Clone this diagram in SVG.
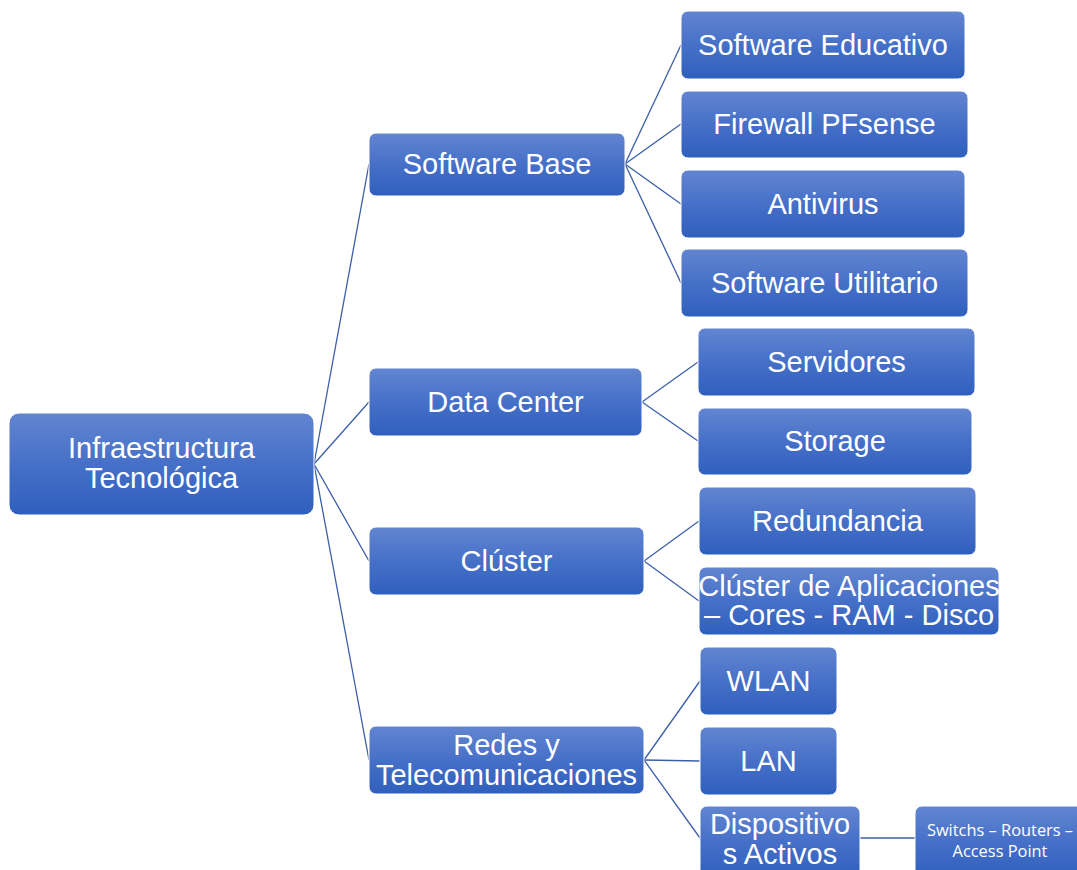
<svg xmlns="http://www.w3.org/2000/svg" width="1077" height="870" viewBox="0 0 1077 870">
  <defs>
    <linearGradient id="boxFill" x1="0" y1="0" x2="0" y2="1">
      <stop offset="0" stop-color="#6285D0"/>
      <stop offset="0.5" stop-color="#4670C8"/>
      <stop offset="1" stop-color="#2F5FBD"/>
    </linearGradient>
    <style>
      .box { fill: url(#boxFill); stroke: #ffffff; stroke-width: 1; }
      .lbl { font-family: "Liberation Sans", Arial, sans-serif; font-size: 29px; fill: #ffffff; text-anchor: middle; dominant-baseline: central; }
      .small { font-family: "Open Sans", "Liberation Sans", sans-serif; font-size: 16.4px; fill: #ffffff; text-anchor: middle; dominant-baseline: central; }
      .link { stroke: #3B5EA9; stroke-width: 1.3; fill: none; }
    </style>
  </defs>
  <rect width="1077" height="870" fill="#ffffff"/>

  <!-- connectors -->
  <g id="connectors">
    <line class="link" x1="314" y1="464" x2="369" y2="164"/>
    <line class="link" x1="314" y1="464" x2="369" y2="402"/>
    <line class="link" x1="314" y1="464" x2="369" y2="561"/>
    <line class="link" x1="314" y1="464" x2="369" y2="760"/>
    <line class="link" x1="625" y1="164" x2="681" y2="45"/>
    <line class="link" x1="625" y1="164" x2="681" y2="124"/>
    <line class="link" x1="625" y1="164" x2="681" y2="204"/>
    <line class="link" x1="625" y1="164" x2="681" y2="283"/>
    <line class="link" x1="642" y1="402" x2="698" y2="362"/>
    <line class="link" x1="642" y1="402" x2="698" y2="441"/>
    <line class="link" x1="644" y1="561" x2="699" y2="521"/>
    <line class="link" x1="644" y1="561" x2="699" y2="601"/>
    <line class="link" x1="644" y1="760" x2="700" y2="681"/>
    <line class="link" x1="644" y1="760" x2="700" y2="761"/>
    <line class="link" x1="644" y1="760" x2="700" y2="838"/>
    <line class="link" x1="860" y1="838" x2="915" y2="838"/>
  </g>

  <!-- root -->
  <g id="infraestructura">
    <rect class="box" x="9" y="413" width="305" height="102" rx="10"/>
    <text class="lbl" x="161.5" y="448">Infraestructura</text>
    <text class="lbl" x="161.5" y="478">Tecnológica</text>
  </g>

  <!-- level 1 -->
  <g id="software-base">
    <rect class="box" x="369" y="133" width="256" height="63" rx="7"/>
    <text class="lbl" x="497" y="164">Software Base</text>
  </g>
  <g id="data-center">
    <rect class="box" x="369" y="368" width="273" height="68" rx="7"/>
    <text class="lbl" x="505.5" y="402">Data Center</text>
  </g>
  <g id="cluster">
    <rect class="box" x="369" y="527" width="275" height="68" rx="7"/>
    <text class="lbl" x="506.5" y="561">Clúster</text>
  </g>
  <g id="redes">
    <rect class="box" x="369" y="726" width="275" height="68" rx="7"/>
    <text class="lbl" x="506.5" y="745">Redes y</text>
    <text class="lbl" x="506.5" y="775">Telecomunicaciones</text>
  </g>

  <!-- level 2: Software Base -->
  <g id="software-educativo">
    <rect class="box" x="681" y="11" width="284" height="68" rx="7"/>
    <text class="lbl" x="823" y="45">Software Educativo</text>
  </g>
  <g id="firewall">
    <rect class="box" x="681" y="91" width="287" height="67" rx="7"/>
    <text class="lbl" x="824.5" y="124">Firewall PFsense</text>
  </g>
  <g id="antivirus">
    <rect class="box" x="681" y="170" width="284" height="68" rx="7"/>
    <text class="lbl" x="823" y="204">Antivirus</text>
  </g>
  <g id="software-utilitario">
    <rect class="box" x="681" y="249" width="287" height="68" rx="7"/>
    <text class="lbl" x="824.5" y="283">Software Utilitario</text>
  </g>

  <!-- level 2: Data Center -->
  <g id="servidores">
    <rect class="box" x="698" y="328" width="277" height="68" rx="7"/>
    <text class="lbl" x="836.5" y="362">Servidores</text>
  </g>
  <g id="storage">
    <rect class="box" x="698" y="408" width="274" height="67" rx="7"/>
    <text class="lbl" x="835" y="441">Storage</text>
  </g>

  <!-- level 2: Clúster -->
  <g id="redundancia">
    <rect class="box" x="699" y="487" width="277" height="68" rx="7"/>
    <text class="lbl" x="837.5" y="521">Redundancia</text>
  </g>
  <g id="cluster-aplicaciones">
    <rect class="box" x="699" y="567" width="300" height="68" rx="7"/>
    <text class="lbl" x="849" y="586">Clúster de Aplicaciones</text>
    <text class="lbl" x="849" y="615">– Cores - RAM - Disco</text>
  </g>

  <!-- level 2: Redes -->
  <g id="wlan">
    <rect class="box" x="700" y="647" width="137" height="68" rx="7"/>
    <text class="lbl" x="768.5" y="681">WLAN</text>
  </g>
  <g id="lan">
    <rect class="box" x="700" y="727" width="137" height="68" rx="7"/>
    <text class="lbl" x="768.5" y="761">LAN</text>
  </g>
  <g id="dispositivos-activos">
    <rect class="box" x="700" y="806" width="160" height="72" rx="7"/>
    <text class="lbl" x="780" y="824">Dispositivo</text>
    <text class="lbl" x="780" y="854">s Activos</text>
  </g>

  <!-- level 3 -->
  <g id="switchs">
    <rect class="box" x="915" y="806" width="170" height="72" rx="7"/>
    <text class="small" x="1000" y="829">Switchs – Routers –</text>
    <text class="small" x="1000" y="850">Access Point</text>
  </g>
</svg>
